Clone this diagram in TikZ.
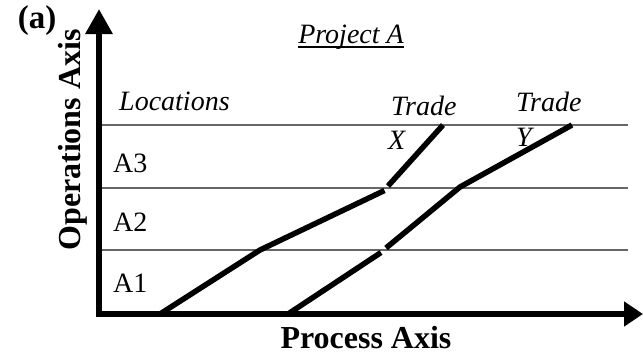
\documentclass[tikz,border=0pt]{standalone}
\usepackage{fontspec}
\setmainfont{Liberation Serif}
\usetikzlibrary{arrows.meta}
\begin{document}
\begin{tikzpicture}[x=1pt,y=-1pt,
  gridline/.style={draw=black!60, line width=1.4pt},
  tradeline/.style={line width=5.5pt, line cap=butt, line join=miter},
  axisline/.style={line width=6pt, line join=miter},
  lab/.style={inner sep=0pt, font=\fontsize{28}{30}\selectfont},
  ilab/.style={inner sep=0pt, font=\fontsize{28}{30}\selectfont\itshape},
  blab/.style={inner sep=0pt, font=\fontsize{32}{34}\selectfont\bfseries}]
\useasboundingbox (0,0) rectangle (643,354);
% grid lines
\coordinate (g3l) at (100,125); \coordinate (g3r) at (628,125);
\coordinate (g2l) at (100,188); \coordinate (g2r) at (628,188);
\coordinate (g1l) at (100,250); \coordinate (g1r) at (628,250);
\draw[gridline] (g3l) -- (g3r);
\draw[gridline] (g2l) -- (g2r);
\draw[gridline] (g1l) -- (g1r);
% axes
\coordinate (ytop) at (99,9);
\coordinate (orig) at (99,314);
\coordinate (xend) at (643,314);
\draw[axisline, {Triangle[length=25pt,width=26pt]}-{Triangle[length=19pt,width=24pt]}] (ytop) -- (orig) -- (xend);
% trade X
\coordinate (x0) at (160,314);
\coordinate (x1) at (260,250);
\coordinate (x2) at (384.5,190.5);
\coordinate (x3) at (388,186);
\coordinate (x4) at (443,125);
\draw[tradeline] (x0) -- (x1) -- (x2);
\draw[tradeline] (x3) -- (x4);
% trade Y
\coordinate (y0) at (288,314);
\coordinate (y1) at (381,252.5);
\coordinate (y2) at (386,248);
\coordinate (y3) at (460,187);
\coordinate (y4) at (572,125);
\draw[tradeline] (y0) -- (y1);
\draw[tradeline] (y2) -- (y3) -- (y4);
% labels
\node[blab, font=\fontsize{33}{34}\selectfont\bfseries] (lbla) at (37,21) {(a)};
\node[blab, rotate=90] (lbly) at (73,140) {Operations Axis};
\node[blab, anchor=base] (lblx) at (366,348) {Process Axis};
\node[ilab, anchor=base] (proj) at (351,43) {Project A};
\draw[line width=1.2pt] ([yshift=-4pt]proj.base west) -- ([yshift=-4pt]proj.base east);
\node[ilab, anchor=base west] (loc) at (119,110) {Locations};
\node[lab, anchor=base west] (a3) at (113,172) {A3};
\node[lab, anchor=base west] (a2) at (113,231) {A2};
\node[lab, anchor=base west] (a1) at (113,292) {A1};
\node[ilab, anchor=base west] (trx) at (391,115) {Trade};
\node[ilab, anchor=base west] (tx) at (388,149) {X};
\node[ilab, anchor=base west] (try) at (516,111) {Trade};
\node[ilab, anchor=base west] (ty) at (516,146) {Y};
\end{tikzpicture}
\end{document}
